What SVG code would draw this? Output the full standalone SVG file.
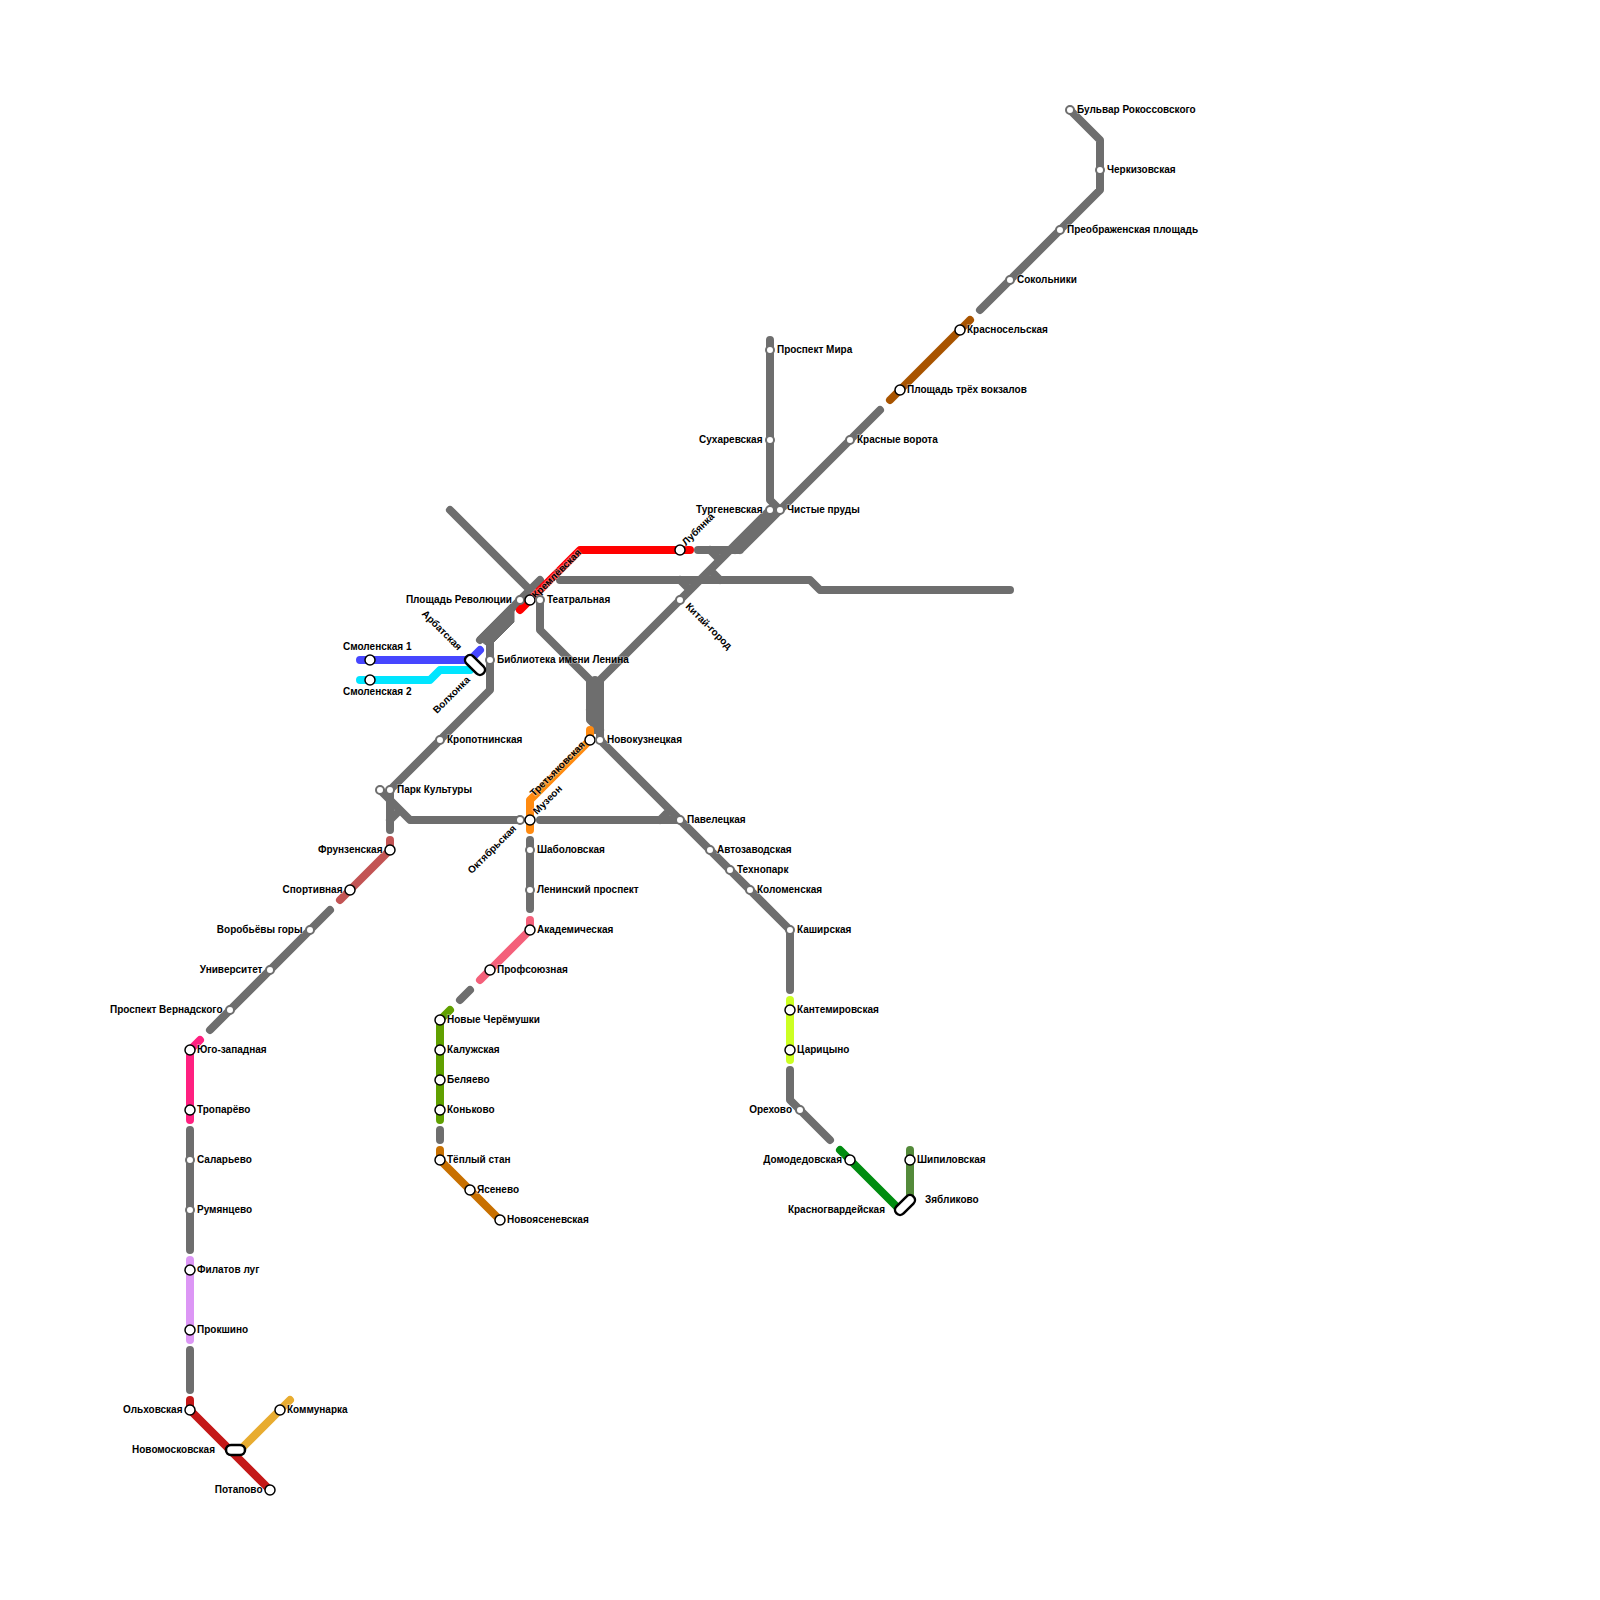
<svg xmlns="http://www.w3.org/2000/svg" width="1600" height="1600" viewBox="0 0 1600 1600">
<style>
.l{fill:none;stroke-width:8;stroke-linecap:round;stroke-linejoin:round}
.g{stroke:#6e6e6e}
.f{fill:#6e6e6e;stroke:#6e6e6e;stroke-width:1;stroke-linejoin:round}
.s{fill:#fff;stroke:#000;stroke-width:1.5}
.i{fill:#fff;stroke:#6e6e6e;stroke-width:2}
.h{fill:#fff;stroke:#000;stroke-width:2.5}
text{font-family:"Liberation Sans",Arial,sans-serif;font-size:10px;font-weight:700;fill:#000;stroke:#fff;stroke-width:1.5px;stroke-opacity:.4;paint-order:stroke}
.e{text-anchor:end}
</style>
<g id="connectors">
<path class="l g" d="M450 510L530 590M540 580L480 640M490 640V690L390 790V830M380 790L410 820H520M390 820L400 810M540 820H680M660 820L670 810M540 600V630L590 680V720L600 730M600 680V740M595 680V730M590 710L600 730M600 680L770 510M740 550L880 410M730 550L770 510M735 550L775 510M770 340V500L780 510M698 550H740M710 550L720 560M710 570L720 580M680 580L690 590M560 580H810L820 590H1010M980 310L1100 190V140L1070 110M600 740L790 930V990M530 840V909M440 1130V1140M460 1000L470 990M190 1130V1250M190 1350V1390M210 1030L330 910M790 1070V1100L830 1140"/>
<polygon class="f" points="477,638 510,605 514,608 514,622 492,644 486,645"/>
<path class="l" stroke="#ff0000" d="M520 610L580 550H690"/>
<path class="l" stroke="#4646ff" d="M360 660H470L480 650"/>
<path class="l" stroke="#00e5ff" d="M360 680H430L440 670H470"/>
<path class="l" stroke="#ff8a10" d="M530 830V800L590 740V730"/>
<path class="l" stroke="#c25454" d="M340 900L390 850V840"/>
<path class="l" stroke="#f4607a" d="M530 920V930L480 980"/>
<path class="l" stroke="#60a000" d="M440 1120V1020L450 1010"/>
<path class="l" stroke="#c87000" d="M440 1150V1160L500 1220"/>
<path class="l" stroke="#ff2080" d="M190 1120V1050L200 1040"/>
<path class="l" stroke="#dc96f5" d="M190 1260V1340"/>
<path class="l" stroke="#c41818" d="M190 1400V1410L270 1490"/>
<path class="l" stroke="#e8ac30" d="M240 1450L290 1400"/>
<path class="l" stroke="#a85400" d="M890 400L970 320"/>
<path class="l" stroke="#ccff22" d="M790 1000V1060"/>
<path class="l" stroke="#008c10" d="M840 1150L900 1210"/>
<path class="l" stroke="#548a3a" d="M910 1150V1200"/>
</g>
<g id="n-bulvar"><circle class="i" cx="1070" cy="110" r="4"/><text x="1077" y="113">Бульвар Рокоссовского</text></g>
<g id="n-cherk"><circle class="i" cx="1100" cy="170" r="4"/><text x="1107" y="173">Черкизовская</text></g>
<g id="n-preo"><circle class="i" cx="1060" cy="230" r="4"/><text x="1067" y="233">Преображенская площадь</text></g>
<g id="n-sok"><circle class="i" cx="1010" cy="280" r="4"/><text x="1017" y="283">Сокольники</text></g>
<g id="n-krasnos"><circle class="s" cx="960" cy="330" r="5"/><text x="967" y="333">Красносельская</text></g>
<g id="n-3vokz"><circle class="s" cx="900" cy="390" r="5"/><text x="907" y="393">Площадь трёх вокзалов</text></g>
<g id="n-kv"><circle class="i" cx="850" cy="440" r="4"/><text x="857" y="443">Красные ворота</text></g>
<g id="n-chp"><circle class="i" cx="780" cy="510" r="4"/><text x="787" y="513">Чистые пруды</text></g>
<g id="n-turg"><circle class="i" cx="770" cy="510" r="4"/><text class="e" x="762.5" y="513">Тургеневская</text></g>
<g id="n-such"><circle class="i" cx="770" cy="440" r="4"/><text class="e" x="762.5" y="443">Сухаревская</text></g>
<g id="n-prmir"><circle class="i" cx="770" cy="350" r="4"/><text x="777" y="353">Проспект Мира</text></g>
<g id="n-lub"><circle class="s" cx="680" cy="550" r="5"/><text transform="translate(686 546) rotate(-45)">Лубянка</text></g>
<g id="n-kitai"><circle class="i" cx="680" cy="600" r="4"/><text transform="translate(685 607) rotate(45)">Китай-город</text></g>
<g id="n-pr"><circle class="i" cx="520" cy="600" r="4"/><text class="e" x="512" y="603">Площадь Революции</text></g>
<g id="n-krem"><circle class="s" cx="530" cy="600" r="5"/><text transform="translate(536 599) rotate(-45)">Кремлёвская</text></g>
<g id="n-teatr"><circle class="i" cx="540" cy="600" r="4"/><text x="547" y="603">Театральная</text></g>
<g id="n-arb"><rect class="h" x="463" y="660" width="24" height="10" rx="5" transform="rotate(45 475 665)"/><text class="e" transform="translate(458 651) rotate(45)">Арбатская</text><text transform="translate(437 714) rotate(-45)">Волхонка</text></g>
<g id="n-bibl"><circle class="i" cx="490" cy="660" r="4"/><text x="497" y="663">Библиотека имени Ленина</text></g>
<g id="n-sm1"><circle class="s" cx="370" cy="660" r="5"/><text x="343" y="650">Смоленская 1</text></g>
<g id="n-sm2"><circle class="s" cx="370" cy="680" r="5"/><text x="343" y="695">Смоленская 2</text></g>
<g id="n-krop"><circle class="i" cx="440" cy="740" r="4"/><text x="447" y="743">Кропотнинская</text></g>
<g id="n-tret"><circle class="s" cx="590" cy="740" r="5"/><text transform="translate(534 797) rotate(-45)">Третьяковская</text></g>
<g id="n-novok"><circle class="i" cx="600" cy="740" r="4"/><text x="607" y="743">Новокузнецкая</text></g>
<g id="n-pk"><circle class="i" cx="380" cy="790" r="4"/><circle class="i" cx="390" cy="790" r="4"/><text x="397" y="793">Парк Культуры</text></g>
<g id="n-okt"><circle class="i" cx="520" cy="820" r="4"/><text class="e" transform="translate(517 829) rotate(-45)">Октябрьская</text></g>
<g id="n-muz"><circle class="s" cx="530" cy="820" r="5"/><text transform="translate(537 815) rotate(-45)">Музеон</text></g>
<g id="n-pav"><circle class="i" cx="680" cy="820" r="4"/><text x="687" y="823">Павелецкая</text></g>
<g id="n-avt"><circle class="i" cx="710" cy="850" r="4"/><text x="717" y="853">Автозаводская</text></g>
<g id="n-tekh"><circle class="i" cx="730" cy="870" r="4"/><text x="737" y="873">Технопарк</text></g>
<g id="n-kol"><circle class="i" cx="750" cy="890" r="4"/><text x="757" y="893">Коломенская</text></g>
<g id="n-kash"><circle class="i" cx="790" cy="930" r="4"/><text x="797" y="933">Каширская</text></g>
<g id="n-kant"><circle class="s" cx="790" cy="1010" r="5"/><text x="797" y="1013">Кантемировская</text></g>
<g id="n-tsar"><circle class="s" cx="790" cy="1050" r="5"/><text x="797" y="1053">Царицыно</text></g>
<g id="n-orekh"><circle class="i" cx="800" cy="1110" r="4"/><text class="e" x="792" y="1113">Орехово</text></g>
<g id="n-domod"><circle class="s" cx="850" cy="1160" r="5"/><text class="e" x="842" y="1163">Домодедовская</text></g>
<g id="n-krasng"><rect class="h" x="893" y="1200" width="24" height="10" rx="5" transform="rotate(-45 905 1205)"/><text class="e" x="885" y="1213">Красногвардейская</text><text x="925" y="1203">Зябликово</text></g>
<g id="n-ship"><circle class="s" cx="910" cy="1160" r="5"/><text x="917" y="1163">Шипиловская</text></g>
<g id="n-shab"><circle class="i" cx="530" cy="850" r="4"/><text x="537" y="853">Шаболовская</text></g>
<g id="n-lenp"><circle class="i" cx="530" cy="890" r="4"/><text x="537" y="893">Ленинский проспект</text></g>
<g id="n-akad"><circle class="s" cx="530" cy="930" r="5"/><text x="537" y="933">Академическая</text></g>
<g id="n-prof"><circle class="s" cx="490" cy="970" r="5"/><text x="497" y="973">Профсоюзная</text></g>
<g id="n-nch"><circle class="s" cx="440" cy="1020" r="5"/><text x="447" y="1023">Новые Черёмушки</text></g>
<g id="n-kal"><circle class="s" cx="440" cy="1050" r="5"/><text x="447" y="1053">Калужская</text></g>
<g id="n-bel"><circle class="s" cx="440" cy="1080" r="5"/><text x="447" y="1083">Беляево</text></g>
<g id="n-kon"><circle class="s" cx="440" cy="1110" r="5"/><text x="447" y="1113">Коньково</text></g>
<g id="n-tepl"><circle class="s" cx="440" cy="1160" r="5"/><text x="447" y="1163">Тёплый стан</text></g>
<g id="n-yas"><circle class="s" cx="470" cy="1190" r="5"/><text x="477" y="1193">Ясенево</text></g>
<g id="n-novoy"><circle class="s" cx="500" cy="1220" r="5"/><text x="507" y="1223">Новоясеневская</text></g>
<g id="n-frun"><circle class="s" cx="390" cy="850" r="5"/><text class="e" x="382.5" y="853">Фрунзенская</text></g>
<g id="n-sport"><circle class="s" cx="350" cy="890" r="5"/><text class="e" x="342.5" y="893">Спортивная</text></g>
<g id="n-vor"><circle class="i" cx="310" cy="930" r="4"/><text class="e" x="302.5" y="933">Воробьёвы горы</text></g>
<g id="n-univ"><circle class="i" cx="270" cy="970" r="4"/><text class="e" x="262.5" y="973">Университет</text></g>
<g id="n-pv"><circle class="i" cx="230" cy="1010" r="4"/><text class="e" x="222.5" y="1013">Проспект Вернадского</text></g>
<g id="n-yuz"><circle class="s" cx="190" cy="1050" r="5"/><text x="197" y="1053">Юго-западная</text></g>
<g id="n-trop"><circle class="s" cx="190" cy="1110" r="5"/><text x="197" y="1113">Тропарёво</text></g>
<g id="n-sal"><circle class="i" cx="190" cy="1160" r="4"/><text x="197" y="1163">Саларьево</text></g>
<g id="n-rum"><circle class="i" cx="190" cy="1210" r="4"/><text x="197" y="1213">Румянцево</text></g>
<g id="n-fil"><circle class="s" cx="190" cy="1270" r="5"/><text x="197" y="1273">Филатов луг</text></g>
<g id="n-prok"><circle class="s" cx="190" cy="1330" r="5"/><text x="197" y="1333">Прокшино</text></g>
<g id="n-olkh"><circle class="s" cx="190" cy="1410" r="5"/><text class="e" x="182.5" y="1413">Ольховская</text></g>
<g id="n-novom"><rect class="h" x="226" y="1445" width="19" height="10" rx="5"/><text class="e" x="215" y="1453">Новомосковская</text></g>
<g id="n-komm"><circle class="s" cx="280" cy="1410" r="5"/><text x="287" y="1413">Коммунарка</text></g>
<g id="n-pot"><circle class="s" cx="270" cy="1490" r="5"/><text class="e" x="262.5" y="1493">Потапово</text></g>
</svg>
